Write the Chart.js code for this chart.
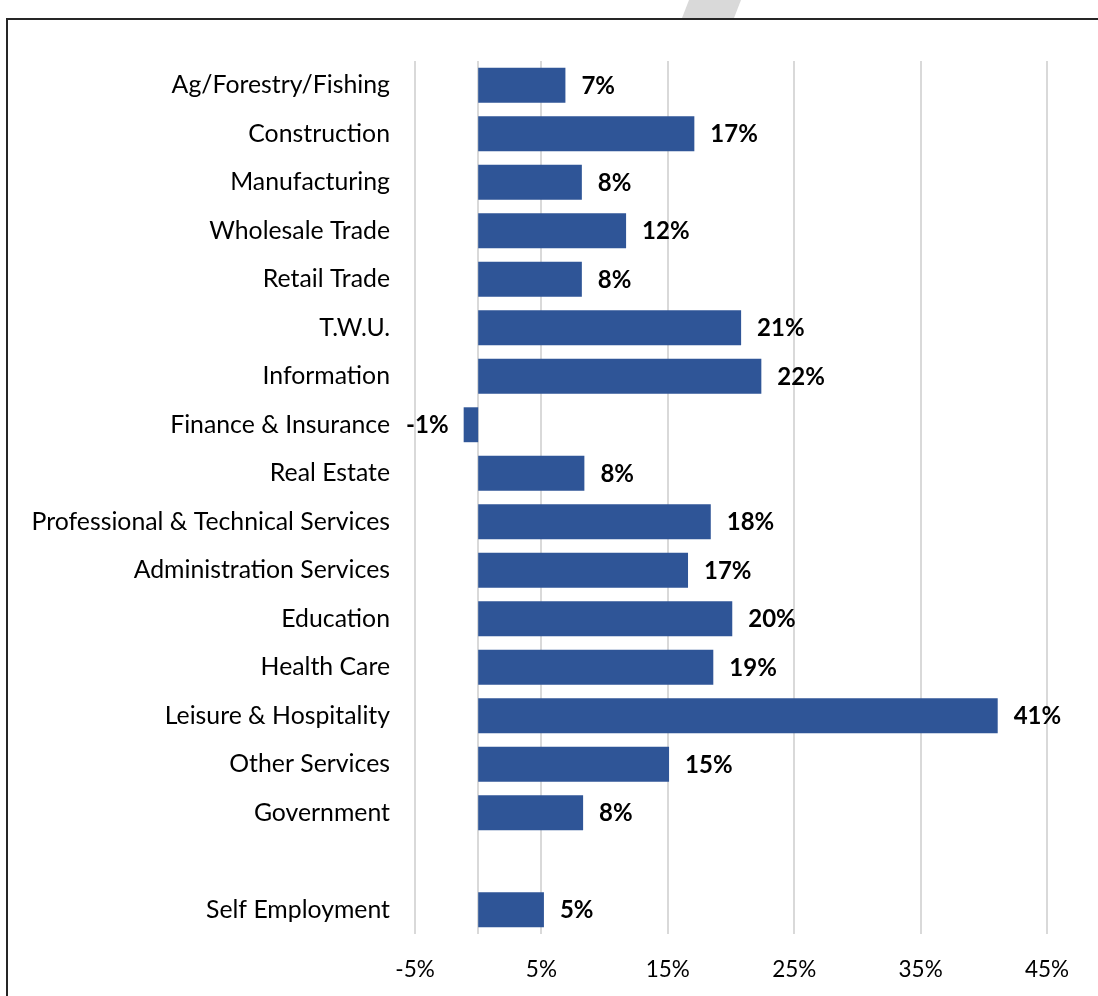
<!DOCTYPE html>
<html>
<head>
<meta charset="utf-8">
<title>Job growth by industry</title>
<script src="https://cdn.jsdelivr.net/npm/chart.js@4.4.1/dist/chart.umd.min.js"></script>
<style>
  html, body { margin: 0; padding: 0; background: #ffffff; }
  #wrap { position: relative; width: 1098px; height: 996px; }
  canvas { display: block; }
</style>
</head>
<body>
<div id="wrap"><canvas id="chart" width="1098" height="996"></canvas></div>
<script>
// Industry categories (an empty slot separates Self Employment from the rest)
const industries = [
  'Ag/Forestry/Fishing',
  'Construction',
  'Manufacturing',
  'Wholesale Trade',
  'Retail Trade',
  'T.W.U.',
  'Information',
  'Finance & Insurance',
  'Real Estate',
  'Professional & Technical Services',
  'Administration Services',
  'Education',
  'Health Care',
  'Leisure & Hospitality',
  'Other Services',
  'Government',
  '',
  'Self Employment'
];

// Percent change for each industry
const changePct = [6.9, 17.1, 8.2, 11.7, 8.2, 20.8, 22.4, -1.15, 8.4, 18.4, 16.6, 20.1, 18.6, 41.1, 15.1, 8.3, null, 5.2];

// Value axis ticks
const axisMin = -5;
const axisMax = 45;
const axisStep = 10;

const FONT = 'Lato, "Open Sans", sans-serif';
const BAR_COLOR = '#2F5597';
const GRID_COLOR = '#D9D9D9';

const fmtPct = v => Math.round(v) + '%';

// Outer frame and header strip
const framePlugin = {
  id: 'frame',
  beforeDraw(chart) {
    const ctx = chart.ctx;
    ctx.save();
    ctx.fillStyle = '#ffffff';
    ctx.fillRect(0, 0, chart.width, chart.height);
    ctx.fillStyle = '#D9D9D9';
    ctx.beginPath();
    ctx.moveTo(689, 0);
    ctx.lineTo(741, 0);
    ctx.lineTo(734, 18);
    ctx.lineTo(682, 18);
    ctx.closePath();
    ctx.fill();
    ctx.strokeStyle = '#262626';
    ctx.lineWidth = 2;
    ctx.strokeRect(7, 19, chart.width + 20, chart.height + 20);
    ctx.restore();
  }
};

// Vertical line at zero
const zeroLinePlugin = {
  id: 'zeroLine',
  beforeDatasetsDraw(chart) {
    const x = Math.round(chart.scales.x.getPixelForValue(0));
    const { top, bottom } = chart.chartArea;
    const ctx = chart.ctx;
    ctx.save();
    ctx.strokeStyle = GRID_COLOR;
    ctx.lineWidth = 2;
    ctx.beginPath();
    ctx.moveTo(x, top);
    ctx.lineTo(x, bottom);
    ctx.stroke();
    ctx.restore();
  }
};

// Value labels at the end of each bar
const valueLabelPlugin = {
  id: 'valueLabels',
  afterDatasetsDraw(chart) {
    const ctx = chart.ctx;
    const meta = chart.getDatasetMeta(0);
    ctx.save();
    ctx.font = 'bold 24px ' + FONT;
    ctx.fillStyle = '#000000';
    ctx.textBaseline = 'middle';
    meta.data.forEach((bar, i) => {
      const v = changePct[i];
      if (v === null || v === undefined) return;
      if (v >= 0) {
        ctx.textAlign = 'left';
        ctx.fillText(fmtPct(v), bar.x + 16, bar.y + 1);
      } else {
        ctx.textAlign = 'right';
        ctx.fillText(fmtPct(v), bar.x - 15, bar.y + 1);
      }
    });
    ctx.restore();
  }
};

new Chart(document.getElementById('chart'), {
  type: 'bar',
  data: {
    labels: industries,
    datasets: [{
      data: changePct,
      backgroundColor: BAR_COLOR,
      borderWidth: 0,
      categoryPercentage: 1,
      barPercentage: 0.72
    }]
  },
  options: {
    indexAxis: 'y',
    responsive: false,
    animation: false,
    devicePixelRatio: 1,
    layout: { padding: { top: 61, right: 51, bottom: 0, left: 0 } },
    plugins: {
      legend: { display: false },
      tooltip: { enabled: false }
    },
    scales: {
      x: {
        min: axisMin,
        max: axisMax,
        ticks: {
          stepSize: axisStep,
          color: '#000000',
          font: { family: FONT, size: 22.5 },
          padding: 22,
          callback: v => v + '%'
        },
        grid: { color: GRID_COLOR, lineWidth: 2, drawTicks: false },
        border: { display: false },
        afterFit(scale) { scale.height = 62; }
      },
      y: {
        ticks: {
          color: '#000000',
          font: { family: FONT, size: 24.8 },
          padding: 25,
          autoSkip: false
        },
        grid: { display: false, drawTicks: false },
        border: { display: false },
        afterFit(scale) { scale.width = 415; }
      }
    }
  },
  plugins: [framePlugin, zeroLinePlugin, valueLabelPlugin]
});
</script>
</body>
</html>
